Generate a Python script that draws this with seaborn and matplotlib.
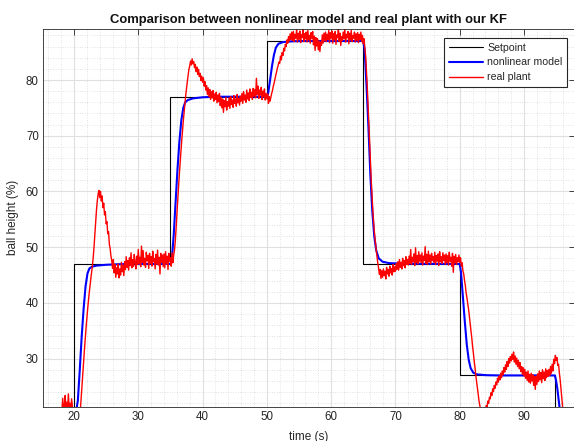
import numpy as np
import pandas as pd
import matplotlib
matplotlib.use("Agg")
import matplotlib.pyplot as plt
import seaborn as sns
from matplotlib.ticker import MultipleLocator

# ---------------- data ----------------
setpoint_time = [15.0, 20.0, 35.0, 50.0, 65.0, 80.0, 94.8, 98.0]
setpoint_vals = [17.0, 47.0, 77.0, 87.0, 47.0, 27.0, 17.0, 17.0]

model_time = [18.0, 20.0, 20.3, 20.6, 20.9, 21.2, 21.5, 21.8, 22.1, 22.4, 22.8, 23.5, 25.0, 27.0, 30.0,
              35.0, 35.2, 35.5, 35.8, 36.1, 36.4, 36.7, 37.0, 37.3, 37.7, 38.5, 40.0, 42.0,
              50.0, 50.2, 50.5, 50.8, 51.1, 51.4, 51.8, 52.5, 54.0, 56.0,
              65.0, 65.2, 65.5, 65.8, 66.1, 66.4, 66.7, 67.0, 67.4, 68.0, 69.0, 71.0,
              80.0, 80.2, 80.5, 80.8, 81.1, 81.4, 81.7, 82.1, 82.6, 84.0, 86.0,
              94.8, 95.0, 95.2, 95.4, 95.6, 96.0, 97.0]
model_vals = [20.0, 20.0, 20.3, 22.5, 28.0, 34.0, 39.0, 43.0, 45.3, 46.2, 46.5, 46.7, 46.85, 46.95, 47.0,
              47.0, 47.5, 52.0, 58.0, 64.0, 69.0, 72.8, 75.0, 76.0, 76.4, 76.7, 76.9, 77.0,
              77.0, 77.6, 80.0, 82.5, 84.5, 85.8, 86.5, 86.8, 86.95, 87.0,
              87.0, 85.5, 79.0, 71.5, 63.0, 56.5, 52.0, 49.5, 48.0, 47.4, 47.15, 47.05,
              47.0, 45.5, 41.0, 36.5, 32.5, 29.8, 28.3, 27.5, 27.2, 27.05, 27.0,
              27.0, 26.0, 24.5, 22.5, 20.5, 18.5, 17.5]

# measured ball height, one value every 0.125 s starting at t = 18 s (16 values per row = 2 s)
plant_t0 = 18.0
plant_dt = 0.125
plant_vals = [
    19.5, 20.8, 22.9, 20.4, 21.6, 23.4, 20.9, 22.2, 20.6, 23.7, 21.3, 22.0, 20.7, 22.8, 21.5, 20.3,
    20.6, 19.8, 20.2, 19.5, 19.7, 20.1, 19.4, 20.0, 21.0, 23.0, 25.2, 27.4, 29.6, 31.6, 33.6, 35.5,
    37.3, 38.9, 40.5, 41.9, 43.2, 44.4, 45.6, 46.8, 48.3, 50.2, 52.4, 54.6, 56.7, 58.3, 59.5, 60.2,
    58.9, 60.0, 58.3, 59.2, 57.1, 57.9, 55.8, 56.4, 54.2, 54.6, 52.4, 52.8, 50.5, 49.8, 48.4, 47.6,
    46.2, 47.8, 45.4, 46.9, 44.6, 46.3, 45.2, 47.0, 44.5, 46.1, 45.0, 47.3, 45.6, 46.8, 44.9, 47.4,
    46.0, 48.3, 46.4, 47.6, 45.9, 48.1, 46.7, 49.0, 46.3, 47.8, 46.6, 48.7, 47.2, 46.1, 48.4, 46.9,
    49.6, 47.0, 48.2, 46.5, 50.2, 47.3, 49.4, 46.8, 48.0, 46.4, 49.1, 47.6, 48.5, 46.2, 48.9, 47.1,
    48.3, 46.6, 49.3, 47.4, 48.0, 46.1, 48.7, 47.0, 49.5, 46.8, 48.2, 45.2, 48.9, 47.3, 48.6, 46.5,
    48.8, 46.3, 49.2, 47.0, 48.4, 46.0, 48.9, 47.5, 48.1, 46.6, 49.0, 47.2, 48.5, 49.4, 51.0, 53.2,
    55.8, 58.2, 60.6, 62.9, 65.0, 67.0, 69.0, 70.9, 72.6, 74.2, 75.8, 77.2, 78.5, 79.7, 80.8, 81.9,
    82.5, 83.4, 82.7, 83.8, 82.9, 83.3, 82.2, 82.8, 81.5, 82.3, 81.0, 81.9, 80.6, 81.2, 79.9, 80.7,
    79.6, 80.4, 78.9, 79.7, 78.2, 79.0, 77.4, 78.6, 77.0, 78.3, 76.5, 77.9, 76.8, 78.1, 76.2, 77.5,
    76.5, 77.8, 75.9, 77.3, 76.1, 77.6, 75.4, 76.9, 75.0, 76.6, 74.2, 76.3, 75.2, 76.9, 74.6, 76.1,
    75.3, 76.8, 74.9, 77.0, 75.6, 76.4, 75.1, 77.2, 75.8, 76.6, 75.3, 77.4, 75.9, 76.7, 75.5, 77.1,
    76.2, 77.6, 75.8, 77.9, 76.4, 77.3, 76.0, 78.2, 76.6, 77.7, 76.3, 78.4, 76.9, 77.8, 76.5, 78.5,
    77.1, 78.3, 76.8, 80.3, 77.4, 78.9, 76.7, 78.2, 77.3, 78.7, 76.5, 78.0, 77.0, 78.4, 76.4, 77.6,
    76.6, 77.5, 75.8, 77.0, 76.2, 76.9, 77.6, 78.1, 78.9, 79.4, 80.1, 80.8, 81.4, 82.1, 82.6, 83.2,
    83.0, 84.3, 83.6, 84.9, 84.4, 85.7, 85.2, 86.4, 86.0, 87.2, 86.6, 87.8, 87.0, 88.3, 87.2, 88.6,
    87.1, 88.7, 86.9, 88.2, 87.5, 89.0, 86.8, 88.4, 87.3, 88.8, 86.7, 88.1, 87.6, 89.3, 86.9, 88.3,
    87.4, 88.6, 86.8, 88.9, 87.2, 88.0, 86.6, 88.5, 87.5, 88.7, 86.3, 87.9, 85.3, 87.6, 86.1, 87.4,
    85.4, 87.0, 85.1, 86.8, 86.2, 88.1, 86.6, 88.4, 87.0, 88.6, 86.9, 88.2, 87.3, 88.9, 86.7, 88.5,
    87.5, 88.8, 86.6, 88.3, 87.2, 88.7, 86.4, 88.1, 87.6, 89.3, 86.9, 88.4, 86.2, 87.8, 87.1, 88.6,
    87.4, 89.2, 86.8, 88.2, 87.6, 88.7, 86.5, 88.4, 87.2, 88.9, 86.9, 88.0, 87.5, 88.6, 86.8, 88.3,
    87.1, 88.5, 86.7, 88.2, 87.3, 88.6, 86.9, 88.0, 86.5, 87.4, 85.6, 84.2, 81.5, 78.6, 75.2, 71.8,
    68.2, 64.8, 61.6, 58.8, 56.3, 54.2, 52.4, 50.9, 49.6, 48.4, 47.2, 46.3, 45.1, 46.0, 44.4, 45.8,
    44.6, 46.1, 44.9, 45.7, 44.3, 46.4, 45.2, 46.0, 44.8, 46.6, 45.4, 46.2, 45.0, 46.9, 45.6, 46.5,
    45.7, 47.1, 46.0, 47.4, 45.9, 47.8, 46.4, 47.3, 46.1, 48.0, 46.7, 47.6, 46.3, 48.3, 46.9, 47.8,
    46.8, 48.4, 47.1, 49.6, 46.9, 48.2, 47.4, 48.8, 46.7, 49.9, 47.3, 48.5, 47.0, 49.2, 47.5, 48.6,
    47.2, 49.0, 46.8, 48.4, 47.6, 50.1, 47.1, 48.7, 46.9, 49.3, 47.4, 48.6, 47.0, 48.9, 47.6, 48.3,
    47.3, 49.1, 46.9, 48.5, 47.5, 48.8, 46.7, 49.2, 47.4, 48.3, 47.1, 49.0, 47.6, 48.6, 46.9, 48.8,
    47.2, 48.5, 46.8, 49.1, 47.5, 48.2, 46.6, 48.9, 45.5, 48.4, 47.2, 48.7, 46.9, 48.1, 47.4, 48.6,
    47.3, 48.1, 46.6, 47.2, 45.7, 45.2, 44.0, 43.1, 41.8, 40.9, 39.8, 38.9, 37.6, 36.4, 35.0, 33.7,
    32.2, 31.0, 29.6, 28.4, 27.0, 25.9, 24.7, 23.6, 22.4, 21.6, 20.8, 20.3, 20.0, 19.8, 20.1, 20.4,
    20.9, 21.6, 21.3, 22.4, 22.0, 23.1, 22.8, 23.9, 23.4, 24.6, 24.1, 25.2, 24.7, 25.8, 25.3, 26.5,
    25.8, 26.9, 26.2, 27.4, 26.6, 27.8, 27.1, 28.4, 27.6, 28.9, 28.1, 29.5, 28.6, 30.0, 29.2, 30.4,
    29.6, 30.8, 29.9, 31.2, 29.4, 30.5, 29.0, 30.1, 28.6, 29.7, 28.2, 29.3, 27.7, 28.6, 27.2, 28.4,
    26.9, 28.1, 26.5, 27.6, 26.1, 27.8, 25.8, 27.2, 25.6, 27.4, 26.0, 27.1, 25.2, 26.8, 24.5, 26.9,
    25.4, 27.3, 25.9, 27.8, 26.2, 27.5, 25.7, 28.0, 26.4, 27.6, 26.1, 28.2, 26.6, 27.9, 26.8, 28.1,
    27.0, 28.6, 27.4, 29.0, 27.8, 29.9, 29.1, 30.6, 29.7, 30.2, 28.8, 29.0, 27.4, 26.2, 24.6, 23.0,
    21.4, 20.2, 19.6, 19.2, 19.0,
]
plant_time = plant_t0 + plant_dt * np.arange(len(plant_vals))

title = "Comparison between nonlinear model and real plant with our KF"
xlabel = "time (s)"
ylabel = "ball height (%)"

# ---------------- plot ----------------
sns.set_style("white")
plt.rcParams['font.family'] = ['Liberation Sans', 'DejaVu Sans']

W, H = 574, 441
fig = plt.figure(figsize=(W / 100, H / 100), dpi=100)
ax_l, ax_r, ax_t, ax_b = 43, 575, 29, 406.7
ax = fig.add_axes([ax_l / W, 1 - ax_b / H, (ax_r - ax_l) / W, (ax_b - ax_t) / H])

sp_df = pd.DataFrame({"t": setpoint_time, "v": setpoint_vals})
md_df = pd.DataFrame({"t": model_time, "v": model_vals})
pl_df = pd.DataFrame({"t": plant_time, "v": plant_vals})

sns.lineplot(data=sp_df, x="t", y="v", ax=ax, color="black", lw=0.8,
             drawstyle="steps-post", estimator=None, sort=False, label="Setpoint")
sns.lineplot(data=md_df, x="t", y="v", ax=ax, color="#0000ff", lw=1.5,
             estimator=None, sort=False, label="nonlinear model")
sns.lineplot(data=pl_df, x="t", y="v", ax=ax, color="#ff0000", lw=1.0,
             estimator=None, sort=False, label="real plant")

ax.set_xlim(15.18, 97.93)
ax.set_ylim(21.39, 89.15)
ax.xaxis.set_major_locator(MultipleLocator(10))
ax.xaxis.set_minor_locator(MultipleLocator(2))
ax.yaxis.set_major_locator(MultipleLocator(10))
ax.yaxis.set_minor_locator(MultipleLocator(2))
ax.set_axisbelow(True)
ax.grid(which="major", color="#e0e0e0", lw=0.8, ls="-")
ax.grid(which="minor", color="#c8c8c8", lw=0.5, ls=(0, (1, 2.5)))

ax.tick_params(which="major", direction="in", length=4, width=0.6, top=True, right=True,
               labelsize=8.3, colors="#262626", pad=3)
ax.tick_params(which="minor", length=0)
for s in ax.spines.values():
    s.set_color("#262626")
    s.set_linewidth(0.6)

ax.set_title(title, fontsize=9.4, fontweight="bold", pad=4, color="#111111")
ax.set_xlabel(xlabel, fontsize=8.5, color="#262626", labelpad=5.5)
ax.set_ylabel(ylabel, fontsize=8.5, color="#262626", labelpad=5)

leg = ax.legend(loc="upper right",
                bbox_to_anchor=((567 - ax_l) / (ax_r - ax_l), 1 - (38 - ax_t) / (ax_b - ax_t)),
                borderaxespad=0, frameon=True, fancybox=False, edgecolor="#262626",
                framealpha=1, fontsize=7.6, handlelength=3.2, handletextpad=0.4,
                labelspacing=0.45, borderpad=0.45)
leg.get_frame().set_linewidth(0.8)

fig.savefig("out.png", dpi=100)
